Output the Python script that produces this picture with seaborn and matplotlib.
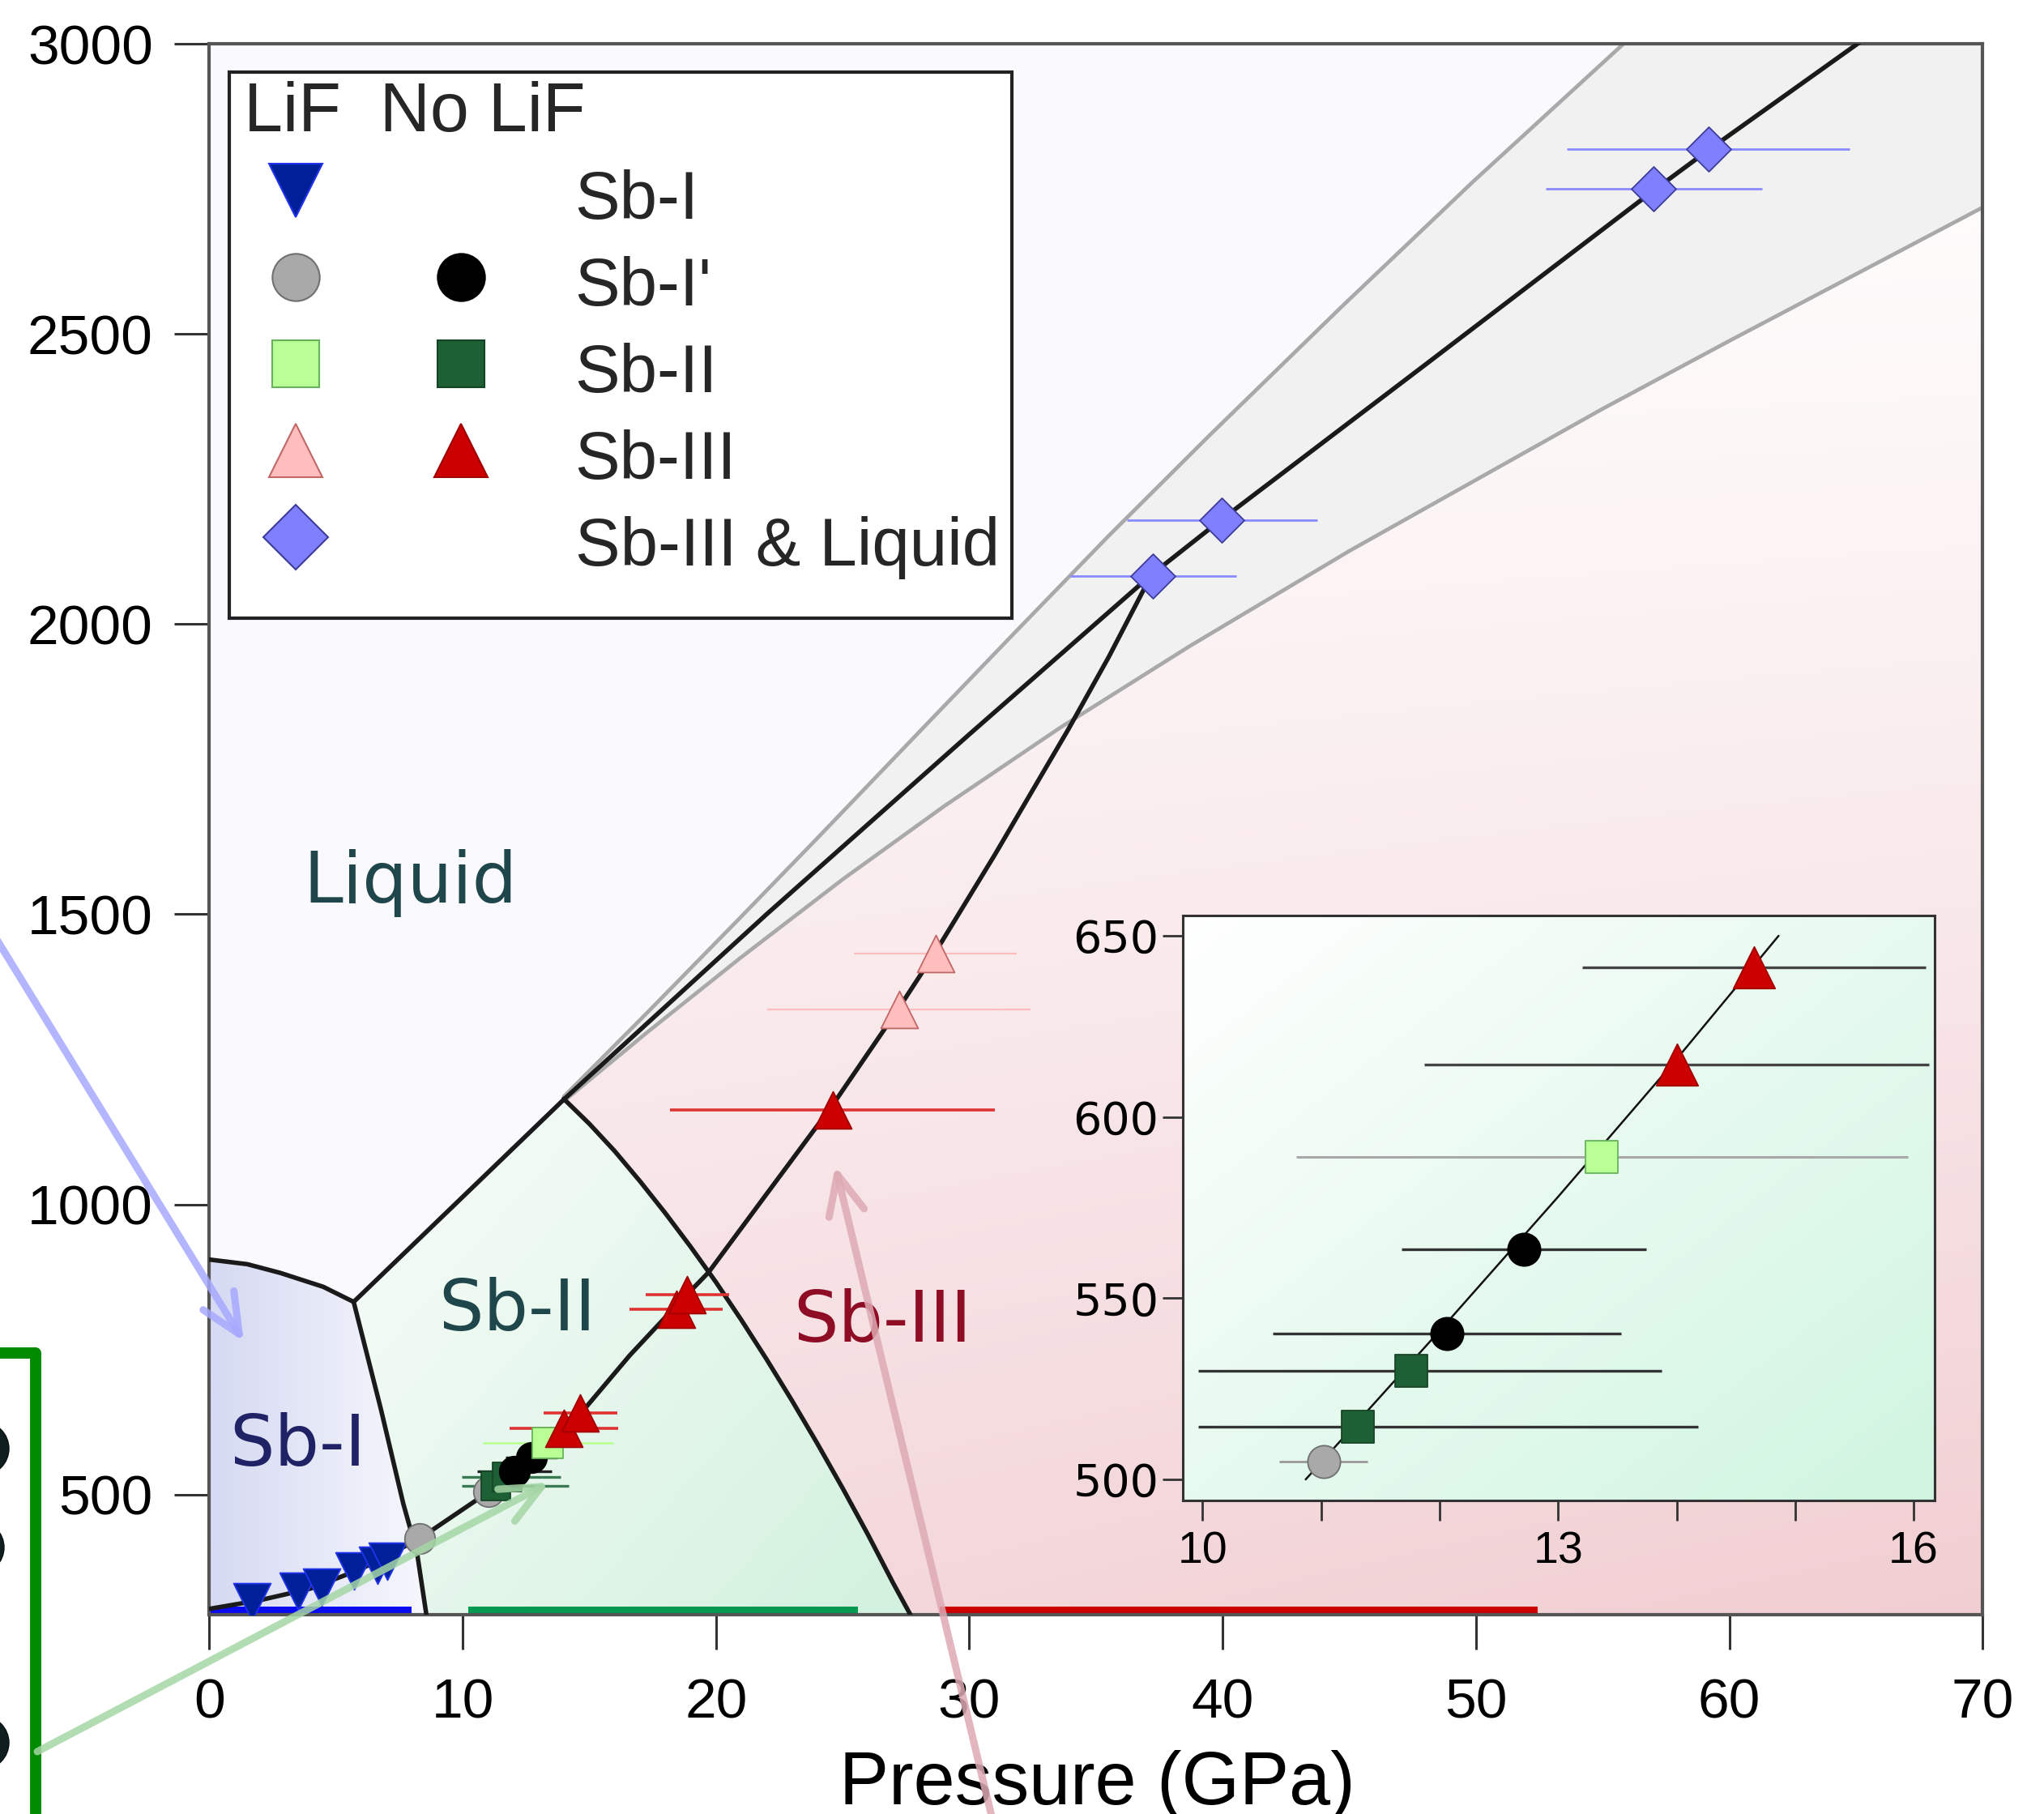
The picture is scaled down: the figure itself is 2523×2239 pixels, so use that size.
#!/usr/bin/env python3
import numpy as np
import matplotlib
matplotlib.use("Agg")
import matplotlib.pyplot as plt
import seaborn as sns
from matplotlib.patches import Polygon, Rectangle, Circle, FancyArrowPatch
from matplotlib.lines import Line2D
from matplotlib.legend_handler import HandlerTuple

sns.set_theme(style="ticks")
plt.rcParams['font.family'] = ['Liberation Sans', 'DejaVu Sans']

W, H = 2523, 2239
XMAX, YMIN, YMAX = 70, 293, 3000

# ---- phase boundaries (P in GPa, T in K) ----
melt_I_P = [0, 1.5, 2.8, 4.5, 5.7]
melt_I_T = [905, 897, 882, 858, 832]
I_II_P = [5.7, 6.77, 7.66, 8.2, 8.57]
I_II_T = [832, 648, 484, 400, 293]
II_III_P = [13.99, 15, 16, 17, 18, 19, 20, 21, 22, 23, 24, 25, 26, 27, 27.7]
II_III_T = [1182, 1139, 1092, 1040, 985, 927, 866, 801, 733, 662, 588, 511, 431, 347, 291]
melt_P = [5.7, 14.0, 22.0, 30.0, 37.19, 39.86, 48.0, 57.04, 59.15, 65.06, 68.0]
melt_T = [832, 1181, 1500, 1810, 2085, 2177, 2447, 2748, 2816, 3000, 3090]

# uncertainty band of the melt line
band_up_P = [14.0, 17.3, 21.0, 24.0, 28.35, 31.7, 35.5, 39.5, 44.7, 49.9, 55.9, 58.5]
band_up_T = [1186, 1331, 1496, 1631, 1829, 1981, 2152, 2326, 2547, 2763, 3003, 3107]
band_lo_P = [14.0, 17.3, 21.0, 25.0, 29.0, 33.57, 38.7, 45.0, 55.0, 60.0, 70.0, 72.0]
band_lo_T = [1178, 1297, 1426, 1560, 1686, 1821, 1962, 2126, 2371, 2488, 2718, 2765]

# Hugoniot
hug_P = [0, 2, 4, 6, 8.3, 10.87, 12.0, 13.0, 14.0, 14.86, 16.6, 18.4, 19.71, 22.0,
         24.6, 27.2, 28.68, 31.0, 33.9, 35.5, 37.19]
hug_T = [303, 318, 338, 372, 424, 500, 541, 578, 616, 650, 740, 824, 883, 1018,
         1171, 1337, 1436, 1602, 1818, 1943, 2085]

# ---- measurements ----
lif_I_P = [1.69, 3.52, 4.44, 5.73, 6.64, 7.01]
lif_I_T = [315, 333, 341, 368, 378, 385]
lif_Ip_P = [8.30, 11.02]
lif_Ip_T = [424, 505]
lif_Ip_err = [0.0, 0.37]
nolif_Ip_P = [12.06, 12.71]
nolif_Ip_T = [540.3, 563.6]
nolif_Ip_err = [1.47, 1.03]
lif_II_P = [13.37]
lif_II_T = [589.0]
lif_II_err = [2.58]
nolif_II_P = [11.31, 11.76]
nolif_II_T = [514.5, 529.9]
nolif_II_err_lo = [1.35, 1.80]
nolif_II_err_hi = [2.87, 2.11]
lif_III_P = [27.23, 28.66]
lif_III_T = [1336, 1432]
lif_III_err = [5.2, 3.2]
nolif_III_P = [14.00, 14.65, 18.44, 18.87, 24.60]
nolif_III_T = [614.4, 641.2, 820, 845, 1163]
nolif_III_err = [2.13, 1.45, 1.84, 1.65, 6.40]
liq_P = [37.25, 39.97, 57.02, 59.18]
liq_T = [2083, 2179, 2750, 2819]
liq_err = [3.28, 3.76, 4.28, 5.58]

# phase ranges marked along the bottom
bar_start = [0.0, 10.22, 28.83]
bar_end = [7.98, 25.6, 52.44]
bar_colors = ['#0a0af0', '#00994f', '#cc0000']
bar_T = 300

legend_labels = ['Sb-I', "Sb-I'", 'Sb-II', 'Sb-III', 'Sb-III & Liquid']
region_labels = ['Liquid', 'Sb-I', 'Sb-II', 'Sb-III']
region_P = [7.94, 3.49, 12.14, 26.57]
region_T = [1520, 550, 783, 763]
region_colors = ['#1f464a', '#202266', '#1f464a', '#8e0c24']

# colours
c_I = ('#00209a', '#2233ee')
c_Ip_lif = ('#a9a9a9', '#707070')
c_Ip_no = ('#000000', '#000000')
c_II_lif = ('#b9ff96', '#66b35a')
c_II_no = ('#1e6035', '#164526')
c_III_lif = ('#ffbdbd', '#c26666')
c_III_no = ('#cc0000', '#a00000')
c_liq = ('#8080ff', '#3d3d99')


def grad_fill(a, poly_P, poly_T, c0, c1, tfunc, extent, zorder=0.5):
    X, Y = np.meshgrid(np.linspace(extent[0], extent[1], 300),
                       np.linspace(extent[2], extent[3], 300))
    t = np.clip(tfunc(X, Y), 0, 1)[..., None]
    c0 = np.array(c0) / 255.0
    c1 = np.array(c1) / 255.0
    img = c0 + (c1 - c0) * t
    im = a.imshow(img, extent=extent, origin='lower', aspect='auto',
                  interpolation='bilinear', zorder=zorder)
    if poly_P is not None:
        patch = Polygon(np.column_stack([poly_P, poly_T]), closed=True,
                        facecolor='none', edgecolor='none')
        a.add_patch(patch)
        im.set_clip_path(patch)


fig = plt.figure(figsize=(W / 100, H / 100), dpi=100)
ax = fig.add_axes([0.10238, 0.10987, 0.86762, 0.86601])
ax.set_facecolor('#faf9fe')
ext = [0, XMAX, YMIN, YMAX]

# region backgrounds
poly_I_P = melt_I_P + I_II_P[1:] + [8.6, 0]
poly_I_T = melt_I_T + I_II_T[1:] + [250, 250]
grad_fill(ax, poly_I_P, poly_I_T, (214, 218, 242), (247, 248, 253),
          lambda x, y: x / 8.6, ext)

poly_II_P = I_II_P + [8.6, 27.8] + II_III_P[::-1] + [5.7]
poly_II_T = I_II_T + [250, 250] + II_III_T[::-1] + [832]
grad_fill(ax, poly_II_P, poly_II_T, (249, 253, 250), (210, 241, 222),
          lambda x, y: 0.55 * (x - 5.7) / 22 + 0.45 * (1 - (y - 293) / 888), ext)

poly_III_P = II_III_P + [27.8, 75, 75, 68] + melt_P[1:][::-1]
poly_III_T = II_III_T + [250, 250, 3200, 3200] + melt_T[1:][::-1]
grad_fill(ax, poly_III_P, poly_III_T, (255, 254, 254), (241, 206, 210),
          lambda x, y: np.clip(1 - (y - 293) / 2707, 0, 1) ** 1.3 * (0.75 + 0.25 * (x - 14) / 56), ext)

# melt-line uncertainty band
ax.fill(band_up_P + [75] + band_lo_P[::-1], band_up_T + [3400] + band_lo_T[::-1],
        facecolor='#f1f1f1', edgecolor='none', zorder=1.5)
sns.lineplot(x=band_up_P, y=band_up_T, sort=False, estimator=None, color='#a9a9a9', lw=3.4, ax=ax, zorder=1.6)
sns.lineplot(x=band_lo_P, y=band_lo_T, sort=False, estimator=None, color='#a9a9a9', lw=3.4, ax=ax, zorder=1.6)

# bottom bars
for s, e, c in zip(bar_start, bar_end, bar_colors):
    ax.plot([s, e], [bar_T, bar_T], color=c, lw=7.2, solid_capstyle='butt', zorder=2)

# phase boundaries and Hugoniot
for bx, by in [(melt_I_P, melt_I_T), (I_II_P, I_II_T), (II_III_P, II_III_T),
               (melt_P, melt_T), (hug_P, hug_T)]:
    sns.lineplot(x=bx, y=by, sort=False, estimator=None, color='k', lw=4.0, ax=ax, zorder=3)

# region labels
for lab, px, ty, c in zip(region_labels, region_P, region_T, region_colors):
    ax.text(px, ty, lab, ha='center', va='baseline', fontsize=63,
            family='DejaVu Sans', color=c, zorder=3.5)


def errs(a, P, T, err, color, lw):
    a.errorbar(P, T, xerr=err, fmt='none', ecolor=color, elinewidth=lw, capsize=0, zorder=4)


def pts(a, P, T, marker, col, ms):
    sns.scatterplot(x=P, y=T, marker=marker, s=ms ** 2, color=col[0], edgecolor=col[1],
                    linewidth=1.3, ax=a, zorder=6, legend=False)


# main-plot error bars
errs(ax, lif_Ip_P, lif_Ip_T, lif_Ip_err, '#999999', 1.8)
errs(ax, nolif_II_P, nolif_II_T, [nolif_II_err_lo, nolif_II_err_hi], '#3a7a52', 2.4)
errs(ax, nolif_Ip_P, nolif_Ip_T, nolif_Ip_err, '#222222', 2.4)
errs(ax, lif_II_P, lif_II_T, lif_II_err, '#b9ff96', 2.0)
errs(ax, nolif_III_P, nolif_III_T, nolif_III_err, '#dd3333', 2.6)
errs(ax, lif_III_P, lif_III_T, lif_III_err, '#ffbdbd', 1.6)
errs(ax, liq_P, liq_T, liq_err, '#8a8aff', 2.0)

# main-plot markers
pts(ax, lif_I_P, lif_I_T, 'v', c_I, 33)
pts(ax, lif_Ip_P, lif_Ip_T, 'o', c_Ip_lif, 27)
pts(ax, nolif_II_P, nolif_II_T, 's', c_II_no, 26)
pts(ax, nolif_Ip_P, nolif_Ip_T, 'o', c_Ip_no, 27)
pts(ax, lif_II_P, lif_II_T, 's', c_II_lif, 27)
pts(ax, nolif_III_P, nolif_III_T, '^', c_III_no, 33)
pts(ax, lif_III_P, lif_III_T, '^', c_III_lif, 33)
pts(ax, liq_P, liq_T, 'D', c_liq, 28)

ax.set_xlim(0, XMAX)
ax.set_ylim(YMIN, YMAX)
ax.set_xticks(range(0, 71, 10))
ax.set_yticks(range(500, 3001, 500))
ax.tick_params(axis='both', direction='out', length=31, width=2.2, color='#333333',
               labelsize=50, labelcolor='black')
ax.tick_params(axis='x', pad=25)
ax.tick_params(axis='y', pad=19)
for sp in ax.spines.values():
    sp.set_color('#555555')
    sp.set_linewidth(3)
ax.set_ylabel('')
ax.set_xlabel('Pressure (GPa)', fontsize=66, color='black')
ax.xaxis.set_label_coords(0.5007, -0.0862)

# legend box, then legend rows: LiF column, No LiF column, phase name
ax.add_patch(Rectangle((0.01137, 0.6345), 0.4524 - 0.01137, 0.9822 - 0.6345,
                       transform=ax.transAxes, facecolor='white', edgecolor='#222222',
                       lw=3, zorder=19))


def mk(marker, col, ms):
    return Line2D([], [], linestyle='None', marker=marker, markersize=ms,
                  markerfacecolor=col[0], markeredgecolor=col[1], markeredgewidth=1.5)


blank = Line2D([], [], linestyle='None', marker='None')
handles = [(mk('v', c_I, 48), blank),
           (mk('o', c_Ip_lif, 42), mk('o', c_Ip_no, 42)),
           (mk('s', c_II_lif, 42), mk('s', c_II_no, 42)),
           (mk('^', c_III_lif, 48), mk('^', c_III_no, 48)),
           (mk('D', c_liq, 41), blank)]
leg = ax.legend(handles, legend_labels,
                handler_map={tuple: HandlerTuple(ndivide=None, pad=0.918)},
                loc='upper left', bbox_to_anchor=(0.0195, 0.9763), borderaxespad=0,
                title='LiF  No LiF', fontsize=60, title_fontsize=62,
                handlelength=3.99, handleheight=1.2, handletextpad=0.913, borderpad=0,
                labelspacing=0.23, frameon=False)
leg._legend_box.align = 'left'
leg.set_zorder(20)

# inset
axins = fig.add_axes([0.57848, 0.17285, 0.36821, 0.32265])
iext = [9.83, 16.18, 494.2, 655.7]
grad_fill(axins, None, None, (255, 255, 255), (207, 245, 224),
          lambda x, y: 0.5 * (x - 9.83) / 6.35 + 0.5 * (1 - (y - 494.2) / 161.5), iext, zorder=0)
sns.lineplot(x=hug_P[5:10], y=hug_T[5:10], sort=False, estimator=None, color='#111111',
             lw=1.8, ax=axins, zorder=3)
errs(axins, lif_Ip_P[1:], lif_Ip_T[1:], lif_Ip_err[1:], '#999999', 2.0)
errs(axins, nolif_II_P, nolif_II_T, [nolif_II_err_lo, nolif_II_err_hi], '#333333', 2.4)
errs(axins, nolif_Ip_P, nolif_Ip_T, nolif_Ip_err, '#333333', 2.4)
errs(axins, lif_II_P, lif_II_T, lif_II_err, '#a8a8a8', 2.2)
errs(axins, nolif_III_P[:2], nolif_III_T[:2], nolif_III_err[:2], '#444444', 2.4)
pts(axins, lif_Ip_P[1:], lif_Ip_T[1:], 'o', c_Ip_lif, 29)
pts(axins, nolif_II_P, nolif_II_T, 's', c_II_no, 29.5)
pts(axins, nolif_Ip_P, nolif_Ip_T, 'o', c_Ip_no, 29)
pts(axins, lif_II_P, lif_II_T, 's', c_II_lif, 29.5)
pts(axins, nolif_III_P[:2], nolif_III_T[:2], '^', c_III_no, 37)
axins.set_xlim(iext[0], iext[1])
axins.set_ylim(iext[2], iext[3])
axins.set_xticks(range(10, 17))
axins.set_xticklabels(['10', '', '', '13', '', '', '16'])
axins.set_yticks([500, 550, 600, 650])
axins.tick_params(axis='both', direction='out', length=18, width=2, color='#333333',
                  labelsize=40, labelcolor='black')
axins.tick_params(axis='x', pad=9)
axins.tick_params(axis='y', pad=3)
for lbl in axins.get_yticklabels():
    lbl.set_fontfamily('DejaVu Sans')
for sp in axins.spines.values():
    sp.set_color('#333333')
    sp.set_linewidth(2.2)
axins.set_xlabel('')
axins.set_ylabel('')


# pieces of the neighbouring panels (arrows, box, spheres) in pixel space
def pf(x, y):
    return (x / W, 1 - y / H)


arrow_style = '->,head_length=0.88,head_width=0.4'
for (x0, y0), (x1, y1), c in [((-5, 1158), (301, 1656), '#a6a9ff'),
                              ((46, 2162), (678, 1830), '#a5d6a5'),
                              ((1226, 2250), (1031, 1439), '#deaab4')]:
    arr = FancyArrowPatch(pf(x0, y0), pf(x1, y1), transform=fig.transFigure,
                          arrowstyle=arrow_style, mutation_scale=40, lw=6.5,
                          color=c, alpha=0.85, capstyle='round', joinstyle='round',
                          shrinkA=0, shrinkB=0, zorder=30)
    fig.add_artist(arr)

box = Rectangle((-1.0, -0.61), 1.44, 6.3, transform=fig.dpi_scale_trans,
                facecolor='none', edgecolor='#008a00', lw=10, joinstyle='round', zorder=25)
fig.add_artist(box)
for cx, cy in [(-22, 1788), (-28, 1910), (-22, 2151)]:
    fig.add_artist(Circle((cx / 100, (H - cy) / 100), 0.33, transform=fig.dpi_scale_trans,
                          facecolor='#0f1e1e', edgecolor='#061010', lw=1, zorder=25))

fig.savefig('out.png', dpi=100)
